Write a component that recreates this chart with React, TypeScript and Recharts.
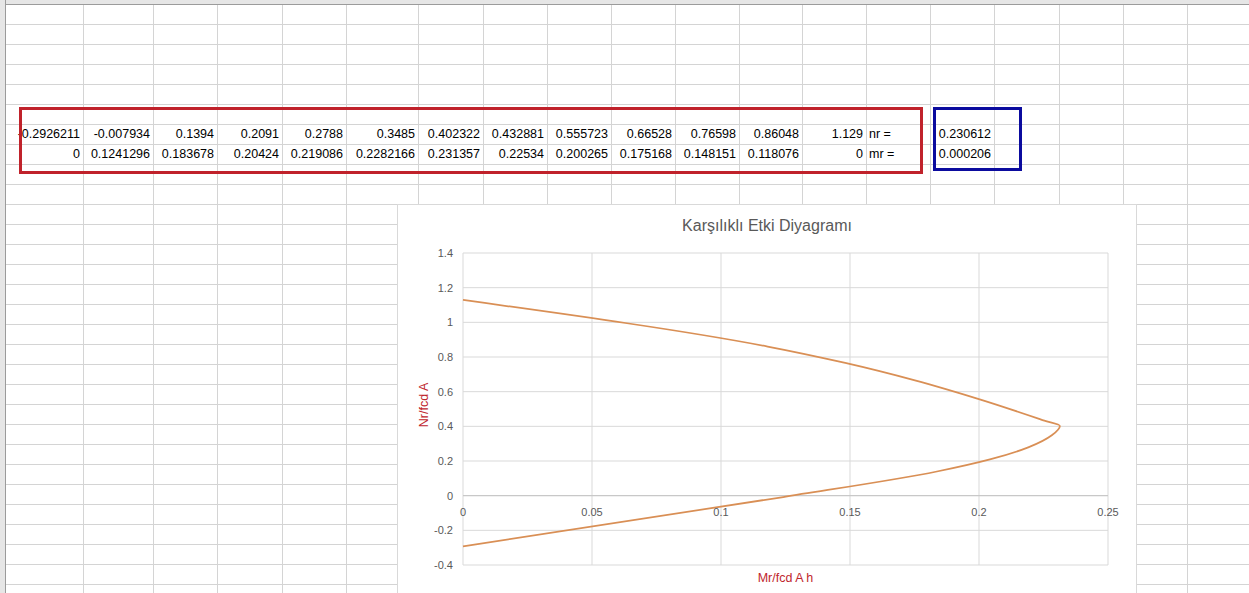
import React from 'react';
import { LineChart, Line, XAxis, YAxis, CartesianGrid, ReferenceLine } from 'recharts';

// N/fcd A values (first spreadsheet row) and M/fcd A h values (second row)
const nValues = [-0.2926211, -0.007934, 0.1394, 0.2091, 0.2788, 0.3485, 0.402322, 0.432881, 0.555723, 0.66528, 0.76598, 0.86048, 1.129];
const mValues = [0, 0.1241296, 0.183678, 0.20424, 0.219086, 0.2282166, 0.231357, 0.22534, 0.200265, 0.175168, 0.148151, 0.118076, 0];
const nr = 0.230612;
const mr = 0.000206;

const xTicks = [0, 0.05, 0.1, 0.15, 0.2, 0.25];
const yTicks = [-0.4, -0.2, 0, 0.2, 0.4, 0.6, 0.8, 1, 1.2, 1.4];

const data = nValues.map((n, i) => ({ m: mValues[i], n }));

// sheet layout
const colEdges = [6, 83, 153, 217, 282, 346, 418, 483, 547, 611, 675, 739, 802, 866, 930, 994, 1059, 1123, 1187, 1251];
const rowEdges = Array.from({ length: 30 }, (_, i) => 4 + i * 20);

const FONT = '"Liberation Sans", Arial, sans-serif';
const GRID = '#d4d4d4';

const CH_W = 738;
const CH_H = 400;
const MARGIN = { top: 48, right: 28, left: 0, bottom: 0 };
const X_AXIS_H = 40;
const PLOT_H = CH_H - MARGIN.top - X_AXIS_H;
const Y_MIN = yTicks[0];
const Y_MAX = yTicks[yTicks.length - 1];
const zeroShift = (PLOT_H * (0 - Y_MIN)) / (Y_MAX - Y_MIN);

// Excel draws the horizontal axis labels under the zero line
const XTick = (props: any) => {
  const { x, y, payload } = props;
  return (
    <text x={x} y={y - zeroShift + 16} dy="0.35em" textAnchor="middle" fill="#595959" fontSize={11} fontFamily={FONT}>
      {payload.value}
    </text>
  );
};

const Cell = ({ col, row, text, left }: { col: number; row: number; text: string; left?: boolean }) => (
  <div
    style={{
      position: 'absolute',
      left: colEdges[col],
      width: colEdges[col + 1] - colEdges[col] - 3,
      top: 124 + row * 20,
      height: 20,
      lineHeight: '20px',
      textAlign: left ? 'left' : 'right',
      paddingLeft: left ? 3 : 0,
      fontSize: 12.5,
      color: '#000',
      whiteSpace: 'nowrap',
    }}
  >
    {text}
  </div>
);

export default function App() {
  return (
    <div style={{ position: 'absolute', left: 0, top: 0, width: 1249, height: 593, overflow: 'hidden', background: '#fff', fontFamily: FONT }}>
      {/* headers */}
      <div style={{ position: 'absolute', left: 0, top: 0, width: 1249, height: 4, background: '#e6e6e6', borderBottom: '1px solid #9b9b9b' }} />
      <div style={{ position: 'absolute', left: 0, top: 0, width: 5, height: 593, background: '#e6e6e6', borderRight: '1px solid #9b9b9b' }} />
      {/* cell grid */}
      {colEdges.slice(1).map((x) => (
        <div key={'c' + x} style={{ position: 'absolute', left: x, top: 5, width: 1, height: 588, background: GRID }} />
      ))}
      {rowEdges.slice(1).map((y) => (
        <div key={'r' + y} style={{ position: 'absolute', left: 6, top: y, width: 1243, height: 1, background: GRID }} />
      ))}

      {/* table values */}
      {nValues.map((v, i) => (
        <Cell key={'n' + i} col={i} row={0} text={String(v)} />
      ))}
      {mValues.map((v, i) => (
        <Cell key={'m' + i} col={i} row={1} text={String(v)} />
      ))}
      <Cell col={13} row={0} text="nr =" left />
      <Cell col={13} row={1} text="mr =" left />
      <Cell col={14} row={0} text={String(nr)} />
      <Cell col={14} row={1} text={String(mr)} />

      <div style={{ position: 'absolute', left: 19, top: 107, width: 904, height: 67, border: '3px solid #c0222b', boxSizing: 'border-box' }} />
      <div style={{ position: 'absolute', left: 933, top: 107, width: 89, height: 64, border: '3px solid #0b0b9e', boxSizing: 'border-box' }} />

      {/* chart */}
      <div style={{ position: 'absolute', left: 398, top: 205, width: CH_W, height: CH_H, background: '#fff', boxShadow: '0 0 0 1px #d9d9d9' }}>
        <div style={{ position: 'absolute', left: 0, top: 12, width: CH_W, textAlign: 'center', fontSize: 16, color: '#595959' }}>
          Karşılıklı Etki Diyagramı
        </div>
        <LineChart width={CH_W} height={CH_H} data={data} margin={MARGIN}>
          <CartesianGrid stroke="#d9d9d9" />
          <XAxis
            dataKey="m"
            type="number"
            domain={[0, 0.25]}
            ticks={xTicks}
            height={X_AXIS_H}
            axisLine={false}
            tickLine={false}
            tickSize={0}
            tickMargin={0}
            tick={<XTick />}
            label={{
              content: ({ viewBox }: any) => (
                <text x={viewBox.x + viewBox.width / 2} y={viewBox.y + 13} dy="0.35em" textAnchor="middle" fill="#c0262d" fontSize={12.5} fontFamily={FONT}>
                  Mr/fcd A h
                </text>
              ),
            }}
          />
          <YAxis
            type="number"
            domain={[Y_MIN, Y_MAX]}
            ticks={yTicks}
            width={65}
            axisLine={false}
            tickLine={false}
            tickMargin={4}
            tick={{ fill: '#595959', fontSize: 11, fontFamily: FONT }}
            label={{
              content: ({ viewBox }: any) => {
                const cx = viewBox.x + 26;
                const cy = viewBox.y + viewBox.height / 2 - 4;
                return (
                  <text x={cx} y={cy} dy="0.35em" textAnchor="middle" transform={`rotate(-90 ${cx} ${cy})`} fill="#c0262d" fontSize={12.5} fontFamily={FONT}>
                    Nr/fcd A
                  </text>
                );
              },
            }}
          />
          <ReferenceLine y={0} stroke="#c4c4c4" strokeWidth={1} />
          <Line
            dataKey="n"
            type="monotoneY"
            stroke="#d98f55"
            strokeWidth={1.75}
            dot={false}
            isAnimationActive={false}
          />
        </LineChart>
      </div>
    </div>
  );
}
